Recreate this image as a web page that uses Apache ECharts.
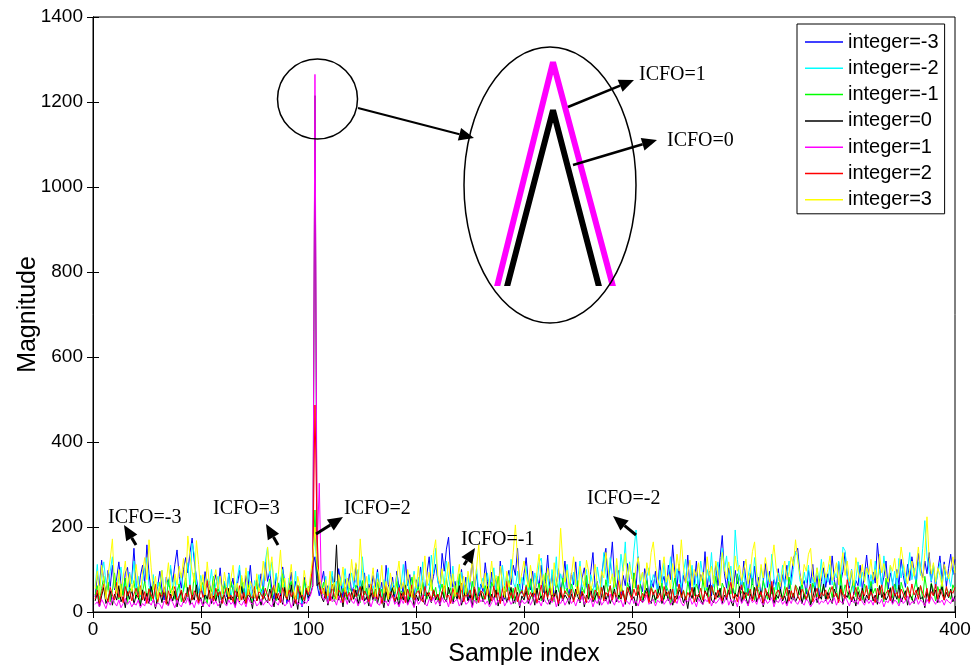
<!DOCTYPE html>
<html>
<head>
<meta charset="utf-8">
<script src="https://cdn.jsdelivr.net/npm/echarts@6/dist/echarts.min.js"></script>
<style>
html, body { margin: 0; padding: 0; background: #fff; }
#main { width: 973px; height: 665px; }
</style>
</head>
<body>
<div id="main"></div>
<script>
// sample index runs 1..400
var names = ['integer=-3', 'integer=-2', 'integer=-1', 'integer=0', 'integer=1', 'integer=2', 'integer=3'];
var colors = ['#0000ff', '#00ffff', '#00ff00', '#000000', '#ff00ff', '#ff0000', '#ffff00'];
var xTicks = [0, 50, 100, 150, 200, 250, 300, 350, 400];
var yTicks = [0, 200, 400, 600, 800, 1000, 1200, 1400];

var blue = [
 35, 88, 62, 122, 70, 45, 98, 60, 110, 52, 80, 118, 64, 40, 92, 105, 58, 76, 150, 66,
 42, 85, 110, 68, 158, 90, 48, 72, 35, 60, 96, 54, 28, 82, 64, 102, 70, 112, 146, 84,
 56, 100, 128, 92, 140, 174, 120, 80, 46, 62, 38, 95, 58, 72, 30, 66, 88, 50, 104, 44,
 70, 36, 92, 58, 80, 24, 64, 98, 52, 40, 86, 62, 110, 48, 34, 76, 56, 90, 44, 118,
 72, 96, 54, 30, 88, 62, 40, 106, 68, 20, 58, 94, 46, 72, 36, 60, 12, 82, 50, 26,
 74, 108, 130, 64, 38, 70, 96, 44, 62, 28, 84, 56, 40, 102, 68, 34, 78, 52, 90, 46,
 60, 112, 38, 74, 54, 92, 30, 66, 48, 86, 58, 100, 42, 70, 24, 110, 64, 50, 82, 36,
 96, 56, 72, 40, 120, 62, 88, 44, 34, 76, 54, 106, 68, 38, 92, 130, 60, 84, 112, 74,
 50, 138, 96, 148, 176, 88, 58, 72, 40, 64, 100, 46, 82, 28, 70, 124, 56, 90, 38, 66,
 48, 116, 72, 34, 94, 60, 80, 42, 120, 56, 30, 74, 98, 64, 110, 86, 150, 62, 44, 90,
 128, 70, 52, 96, 38, 84, 60, 110, 46, 72, 134, 56, 88, 30, 66, 102, 48, 76, 120, 58,
 40, 92, 64, 118, 50, 36, 80, 104, 62, 44, 96, 140, 58, 72, 30, 88, 124, 150, 68, 108,
 165, 76, 54, 98, 40, 86, 62, 114, 70, 34, 92, 56, 130, 66, 48, 102, 80, 38, 74, 58,
 96, 44, 122, 68, 84, 50, 110, 76, 158, 92, 60, 112, 40, 86, 68, 134, 52, 100, 64, 120,
 46, 88, 70, 142, 58, 96, 38, 74, 110, 62, 128, 180, 90, 56, 104, 72, 44, 98, 66, 86,
 52, 120, 74, 40, 92, 64, 108, 50, 82, 36, 70, 114, 58, 96, 44, 76, 62, 102, 48, 88,
 66, 110, 54, 80, 126, 140, 150, 92, 60, 74, 42, 98, 68, 112, 50, 86, 36, 72, 104, 58,
 90, 64, 132, 76, 48, 118, 70, 96, 140, 84, 56, 100, 40, 74, 62, 110, 52, 88, 134, 78,
 46, 94, 68, 162, 106, 60, 82, 120, 54, 92, 70, 38, 100, 64, 124, 86, 58, 112, 74, 130,
 96, 66, 138, 104, 80, 120, 90, 140, 70, 110, 56, 98, 132, 76, 118, 60, 102, 136, 88, 124
];
var cyan = [
 60, 112, 44, 90, 118, 70, 52, 96, 130, 64, 48, 82, 106, 58, 74, 40, 94, 66, 120, 50,
 84, 36, 72, 104, 128, 62, 46, 88, 30, 70, 56, 98, 42, 76, 60, 110, 52, 80, 34, 68,
 92, 48, 74, 116, 58, 162, 136, 70, 44, 86, 54, 30, 78, 62, 100, 40, 66, 84, 28, 58,
 72, 46, 90, 34, 64, 52, 80, 110, 44, 70, 38, 96, 60, 28, 74, 54, 88, 40, 66, 120,
 153, 84, 118, 62, 92, 48, 76, 100, 56, 34, 80, 62, 42, 96, 30, 58, 20, 74, 46, 36,
 60, 120, 190, 88, 52, 70, 40, 84, 30, 62, 96, 48, 72, 36, 80, 56, 102, 44, 68, 92,
 58, 76, 100, 46, 130, 70, 34, 88, 52, 62, 40, 94, 66, 30, 76, 54, 104, 42, 70, 58,
 86, 38, 64, 112, 50, 74, 28, 60, 96, 44, 82, 56, 118, 40, 70, 62, 134, 90, 150, 72,
 48, 98, 64, 120, 80, 52, 108, 36, 74, 60, 94, 42, 66, 86, 30, 72, 54, 104, 46, 62,
 80, 40, 92, 58, 70, 104, 48, 76, 36, 110, 62, 88, 50, 124, 70, 56, 96, 40, 82, 64,
 108, 52, 78, 44, 92, 66, 116, 127, 74, 58, 86, 40, 100, 62, 130, 48, 90, 70, 54, 112,
 68, 42, 94, 60, 80, 120, 52, 74, 100, 46, 88, 64, 36, 106, 72, 56, 140, 92, 60, 128,
 84, 54, 110, 70, 136, 96, 165, 62, 118, 78, 144, 193, 120, 66, 94, 50, 82, 104, 60, 88,
 72, 46, 98, 64, 116, 54, 86, 130, 70, 40, 102, 76, 58, 94, 124, 62, 80, 110, 48, 92,
 64, 120, 84, 52, 100, 72, 140, 60, 92, 118, 76, 150, 96, 132, 70, 108, 56, 193, 124, 80,
 62, 98, 44, 84, 112, 66, 128, 90, 56, 104, 74, 48, 96, 62, 136, 80, 52, 92, 70, 110,
 58, 86, 120, 64, 100, 141, 132, 76, 54, 94, 68, 110, 46, 82, 60, 104, 74, 124, 56, 90,
 70, 112, 64, 96, 80, 120, 58, 153, 144, 86, 62, 100, 48, 76, 118, 60, 94, 72, 106, 54,
 88, 66, 120, 78, 100, 58, 132, 84, 70, 110, 62, 96, 54, 126, 80, 112, 68, 92, 140, 76,
 104, 60, 118, 86, 150, 215, 130, 96, 72, 110, 64, 90, 116, 58, 100, 74, 86, 60, 96, 110
];
var green = [
 40, 62, 28, 55, 84, 36, 70, 24, 50, 92, 44, 30, 66, 38, 80, 22, 58, 46, 74, 32,
 60, 18, 48, 72, 34, 56, 26, 64, 42, 20, 70, 38, 52, 28, 76, 44, 60, 30, 50, 66,
 24, 54, 80, 40, 62, 32, 92, 46, 28, 58, 70, 36, 20, 64, 48, 84, 30, 56, 40, 26,
 62, 44, 30, 72, 50, 22, 58, 36, 80, 46, 28, 64, 40, 18, 54, 70, 32, 48, 60, 38,
 52, 78, 34, 60, 26, 68, 44, 90, 40, 30, 56, 72, 36, 22, 64, 48, 28, 76, 42, 60,
 58, 110, 240, 96, 62, 44, 70, 30, 52, 38, 66, 24, 48, 80, 34, 56, 42, 28, 60, 46,
 36, 64, 50, 22, 74, 40, 56, 30, 62, 48, 26, 70, 38, 54, 20, 66, 44, 32, 58, 42,
 72, 28, 50, 40, 64, 18, 56, 82, 34, 46, 60, 26, 70, 44, 30, 52, 76, 38, 58, 24,
 48, 66, 32, 80, 42, 56, 24, 62, 38, 90, 50, 28, 64, 46, 34, 72, 40, 20, 58, 44,
 30, 62, 46, 22, 70, 54, 36, 84, 40, 28, 60, 48, 74, 32, 56, 20, 66, 42, 52, 36,
 64, 40, 78, 30, 52, 44, 68, 26, 58, 92, 38, 62, 46, 24, 70, 54, 34, 80, 42, 56,
 28, 66, 48, 36, 74, 22, 58, 44, 86, 32, 60, 50, 26, 68, 40, 54, 30, 76, 46, 62,
 38, 82, 56, 30, 64, 44, 24, 70, 52, 36, 92, 58, 40, 66, 28, 50, 74, 34, 60, 46,
 22, 54, 40, 68, 30, 62, 48, 18, 56, 80, 42, 64, 34, 52, 26, 72, 44, 58, 38, 66,
 50, 30, 76, 44, 58, 24, 62, 40, 84, 48, 34, 68, 54, 28, 72, 42, 60, 36, 90, 52,
 44, 70, 32, 56, 40, 80, 26, 62, 48, 36, 74, 52, 30, 66, 42, 58, 24, 70, 46, 34,
 60, 38, 82, 48, 28, 64, 54, 40, 72, 30, 56, 44, 20, 68, 50, 36, 78, 42, 62, 32,
 46, 58, 34, 70, 52, 26, 88, 40, 64, 48, 30, 56, 74, 36, 60, 42, 28, 66, 50, 38,
 72, 44, 56, 30, 62, 48, 24, 80, 40, 58, 34, 66, 46, 20, 70, 52, 36, 60, 44, 28,
 54, 76, 40, 62, 30, 84, 48, 36, 68, 52, 26, 60, 42, 74, 34, 56, 46, 30, 64, 50
];
var black = [
 26, 44, 12, 38, 58, 20, 32, 50, 16, 42, 28, 62, 24, 36, 10, 48, 30, 54, 18, 40,
 34, 14, 52, 26, 44, 20, 60, 32, 8, 38, 46, 22, 56, 30, 16, 42, 26, 50, 12, 36,
 48, 22, 30, 58, 18, 40, 28, 64, 24, 34, 12, 44, 30, 52, 20, 38, 26, 46, 10, 32,
 40, 18, 56, 28, 36, 14, 48, 24, 60, 30, 20, 42, 34, 8, 50, 26, 38, 16, 44, 30,
 22, 54, 36, 12, 46, 28, 40, 18, 58, 32, 24, 64, 14, 38, 6, 48, 30, 20, 52, 34,
 44, 62, 1215, 62, 70, 36, 24, 48, 16, 40, 30, 56, 158, 28, 44, 12, 50, 34, 22, 46,
 30, 52, 18, 40, 60, 26, 36, 14, 46, 28, 54, 20, 42, 32, 10, 48, 24, 38, 58, 22,
 36, 16, 44, 28, 62, 20, 34, 50, 12, 40, 26, 56, 30, 18, 46, 36, 22, 52, 28, 42,
 14, 48, 32, 24, 58, 38, 20, 44, 30, 62, 16, 36, 50, 26, 40, 12, 54, 28, 34, 46,
 24, 38, 60, 18, 42, 30, 52, 14, 36, 26, 48, 22, 40, 58, 20, 32, 46, 10, 38, 28,
 50, 20, 34, 44, 16, 56, 28, 38, 24, 62, 30, 18, 42, 36, 52, 14, 46, 26, 40, 32,
 18, 42, 28, 54, 36, 22, 48, 12, 40, 30, 58, 24, 34, 46, 16, 38, 62, 26, 44, 20,
 36, 54, 24, 40, 30, 50, 18, 44, 60, 28, 36, 14, 48, 32, 22, 42, 56, 30, 20, 46,
 28, 40, 62, 20, 34, 48, 26, 56, 16, 38, 30, 52, 44, 22, 36, 8, 46, 32, 58, 24,
 42, 30, 18, 50, 38, 64, 28, 22, 46, 34, 56, 20, 40, 30, 52, 26, 14, 44, 36, 60,
 22, 48, 34, 16, 42, 30, 58, 24, 38, 50, 12, 36, 46, 28, 62, 20, 40, 32, 54, 26,
 38, 18, 52, 30, 44, 24, 36, 60, 20, 42, 28, 48, 16, 34, 56, 22, 40, 30, 66, 26,
 46, 32, 20, 54, 38, 28, 62, 18, 42, 34, 50, 24, 36, 14, 48, 30, 56, 22, 40, 28,
 54, 26, 40, 18, 62, 34, 46, 28, 38, 56, 20, 44, 30, 64, 24, 36, 50, 16, 42, 32,
 20, 44, 58, 30, 36, 10, 48, 26, 66, 38, 52, 22, 40, 60, 28, 46, 34, 54, 24, 38
];
var magenta = [
 18, 24, 12, 30, 20, 8, 26, 16, 34, 22, 14, 28, 10, 20, 32, 18, 26, 12, 22, 16,
 28, 10, 20, 14, 36, 24, 16, 30, 12, 22, 18, 8, 26, 20, 14, 32, 22, 10, 28, 18,
 12, 26, 20, 34, 16, 22, 10, 28, 18, 30, 14, 24, 20, 12, 36, 18, 26, 14, 22, 30,
 20, 14, 28, 18, 24, 10, 32, 20, 16, 26, 12, 34, 22, 18, 28, 14, 20, 30, 16, 24,
 26, 18, 12, 30, 22, 16, 36, 24, 14, 20, 28, 10, 24, 32, 18, 22, 14, 26, 20, 30,
 40, 60, 1265, 141, 303, 50, 28, 36, 20, 44, 24, 30, 16, 38, 22, 28, 34, 18, 42, 26,
 20, 32, 14, 26, 38, 18, 24, 30, 12, 28, 36, 20, 16, 34, 22, 26, 14, 30, 40, 18,
 24, 12, 30, 20, 36, 16, 28, 22, 10, 32, 18, 26, 40, 20, 14, 30, 24, 34, 18, 28,
 16, 34, 22, 28, 12, 38, 20, 26, 30, 14, 24, 36, 18, 22, 32, 10, 28, 20, 34, 24,
 30, 18, 26, 12, 22, 34, 16, 28, 20, 38, 14, 24, 30, 18, 26, 22, 36, 14, 28, 20,
 22, 32, 16, 28, 40, 20, 26, 14, 34, 24, 18, 30, 22, 36, 12, 28, 20, 32, 16, 26,
 34, 20, 28, 14, 30, 24, 38, 18, 26, 22, 32, 12, 28, 20, 36, 16, 24, 30, 18, 42,
 26, 16, 34, 22, 28, 12, 30, 24, 18, 36, 20, 26, 14, 32, 22, 28, 40, 18, 24, 30,
 14, 28, 22, 36, 18, 26, 32, 16, 24, 30, 20, 38, 22, 14, 28, 24, 34, 18, 26, 12,
 32, 22, 18, 30, 24, 36, 14, 28, 20, 26, 34, 18, 24, 40, 16, 30, 22, 28, 12, 36,
 20, 30, 26, 14, 34, 22, 28, 18, 38, 24, 16, 30, 20, 26, 34, 12, 28, 22, 32, 18,
 26, 14, 30, 20, 36, 24, 18, 28, 22, 16, 32, 24, 12, 20, 28, 34, 18, 26, 22, 30,
 18, 28, 22, 34, 16, 30, 24, 20, 38, 26, 14, 32, 22, 28, 18, 36, 24, 16, 30, 20,
 28, 16, 34, 24, 20, 30, 12, 26, 22, 36, 18, 28, 24, 14, 32, 20, 26, 38, 16, 24,
 22, 34, 18, 28, 24, 14, 30, 20, 36, 26, 18, 32, 22, 28, 16, 30, 24, 20, 34, 26
];
var red = [
 30, 52, 20, 44, 66, 36, 24, 58, 40, 28, 70, 34, 46, 22, 60, 38, 50, 26, 42, 56,
 34, 62, 28, 48, 20, 54, 40, 30, 66, 24, 44, 36, 58, 18, 50, 32, 46, 60, 28, 38,
 52, 24, 44, 36, 64, 28, 50, 40, 22, 60, 34, 46, 74, 30, 42, 26, 56, 38, 48, 20,
 44, 58, 30, 40, 24, 52, 36, 62, 28, 46, 20, 54, 38, 32, 60, 26, 48, 42, 30, 56,
 38, 26, 50, 64, 32, 44, 22, 58, 40, 30, 52, 36, 48, 20, 62, 34, 42, 28, 56, 40,
 70, 110, 487, 180, 60, 42, 56, 32, 48, 26, 64, 38, 30, 52, 44, 22, 58, 36, 46, 28,
 54, 36, 44, 60, 28, 50, 40, 24, 66, 34, 46, 30, 56, 20, 42, 62, 32, 48, 38, 26,
 40, 58, 30, 46, 22, 54, 36, 64, 28, 44, 50, 32, 24, 60, 38, 46, 28, 52, 34, 42,
 26, 48, 62, 34, 40, 20, 56, 38, 46, 30, 68, 24, 42, 36, 52, 28, 60, 40, 22, 50,
 44, 30, 54, 40, 26, 62, 34, 48, 20, 56, 38, 72, 28, 46, 32, 58, 24, 42, 50, 36,
 60, 28, 46, 36, 52, 22, 40, 64, 30, 48, 34, 56, 26, 44, 38, 20, 58, 32, 50, 42,
 34, 54, 24, 42, 60, 30, 48, 36, 22, 66, 40, 28, 52, 44, 32, 58, 26, 46, 38, 62,
 28, 46, 36, 74, 32, 50, 24, 58, 42, 30, 54, 38, 64, 26, 44, 34, 48, 22, 56, 40,
 52, 32, 44, 26, 60, 38, 48, 30, 54, 22, 42, 66, 34, 50, 28, 46, 36, 58, 24, 40,
 36, 56, 28, 48, 40, 20, 62, 44, 30, 52, 38, 26, 58, 34, 46, 70, 32, 42, 24, 50,
 64, 30, 46, 38, 54, 26, 42, 60, 32, 48, 22, 56, 40, 34, 72, 28, 44, 52, 36, 30,
 42, 58, 26, 50, 34, 62, 38, 28, 54, 44, 30, 48, 66, 24, 40, 56, 32, 46, 38, 52,
 30, 46, 60, 36, 44, 22, 54, 40, 32, 76, 48, 28, 42, 58, 34, 26, 50, 38, 62, 30,
 48, 36, 22, 56, 40, 64, 30, 44, 52, 26, 60, 38, 46, 32, 54, 42, 28, 58, 36, 66,
 40, 52, 30, 62, 44, 34, 56, 24, 48, 38, 66, 30, 54, 42, 28, 60, 36, 50, 44, 58
];
var yellow = [
 54, 96, 40, 110, 72, 30, 88, 124, 172, 60, 44, 100, 36, 82, 120, 58, 90, 48, 70, 112,
 66, 40, 94, 128, 76, 170, 104, 52, 84, 30, 62, 98, 46, 72, 116, 56, 38, 90, 64, 108,
 80, 126, 58, 179, 132, 96, 70, 168, 112, 50, 88, 40, 118, 64, 32, 76, 100, 54, 84, 42,
 94, 60, 36, 78, 110, 50, 68, 26, 86, 56, 104, 40, 72, 58, 34, 90, 48, 66, 120, 74,
 153, 96, 130, 64, 44, 88, 146, 58, 80, 36, 70, 112, 52, 30, 84, 60, 40, 98, 66, 48,
 90, 130, 200, 108, 84, 60, 42, 76, 38, 96, 54, 70, 30, 88, 62, 106, 46, 80, 56, 124,
 74, 116, 62, 172, 98, 50, 84, 40, 66, 104, 36, 78, 58, 110, 44, 72, 30, 92, 60, 48,
 82, 120, 54, 70, 40, 100, 64, 34, 88, 56, 108, 44, 76, 132, 62, 94, 50, 140, 170, 86,
 66, 102, 48, 78, 118, 58, 90, 36, 74, 112, 52, 84, 40, 96, 70, 128, 60, 104, 158, 82,
 56, 92, 40, 74, 120, 62, 86, 46, 108, 70, 34, 96, 58, 80, 140, 205, 124, 66, 92, 120,
 84, 58, 110, 72, 44, 96, 136, 64, 88, 50, 104, 76, 40, 116, 62, 90, 197, 118, 70, 98,
 54, 86, 130, 68, 42, 108, 78, 60, 122, 94, 50, 74, 112, 64, 38, 96, 80, 140, 104, 66,
 90, 58, 126, 76, 48, 100, 138, 70, 112, 84, 56, 106, 128, 74, 94, 52, 116, 86, 140, 165,
 110, 78, 62, 98, 130, 70, 88, 54, 114, 80, 136, 96, 170, 104, 68, 92, 122, 60, 100, 84,
 116, 72, 94, 58, 130, 86, 108, 66, 120, 90, 62, 140, 104, 78, 118, 84, 56, 132, 96, 110,
 74, 100, 124, 66, 92, 142, 165, 88, 58, 112, 80, 128, 96, 70, 118, 158, 104, 82, 60, 98,
 120, 76, 94, 130, 108, 170, 122, 88, 64, 112, 96, 136, 150, 84, 70, 104, 58, 92, 118, 80,
 100, 132, 74, 90, 116, 64, 108, 140, 86, 120, 72, 98, 62, 128, 94, 80, 112, 70, 104, 88,
 124, 76, 100, 60, 136, 92, 114, 84, 70, 110, 96, 126, 80, 104, 153, 118, 88, 66, 98, 120,
 84, 110, 153, 96, 74, 140, 224, 128, 90, 116, 70, 104, 86, 60, 112, 94, 78, 100, 130, 92
];
var seriesData = [blue, cyan, green, black, magenta, red, yellow];

// annotations: [text, x, y]
var notes = [
  ['ICFO=-3', 108, 518], ['ICFO=3', 213, 509], ['ICFO=2', 344, 509],
  ['ICFO=-1', 461, 540], ['ICFO=-2', 587, 499], ['ICFO=1', 639, 75], ['ICFO=0', 667, 141]
];
// arrows: [x1, y1, x2(tip), y2(tip), width]
var arrows = [
  [136, 545, 124, 525, 3], [278, 545, 266, 524, 3], [316, 534, 343, 517, 3],
  [464, 565, 475, 548, 3], [636, 535, 613, 516, 3],
  [568, 107, 634, 80, 2.5], [573, 165, 657, 140, 2.5], [358, 108, 474, 138, 2]
];

function pairs(arr) {
  return arr.map(function (v, i) { return [i + 1, v]; });
}

function arrow(a) {
  var x1 = a[0], y1 = a[1], x2 = a[2], y2 = a[3];
  var ang = Math.atan2(y2 - y1, x2 - x1), L = 15, W = 6.5;
  var bx = x2 - L * Math.cos(ang), by = y2 - L * Math.sin(ang);
  var s = Math.sin(ang), c = Math.cos(ang);
  return [
    { type: 'line', z: 100, shape: { x1: x1, y1: y1, x2: bx, y2: by }, style: { stroke: '#000', lineWidth: a[4] } },
    { type: 'polygon', z: 100, shape: { points: [[x2, y2], [bx - W * s, by + W * c], [bx + W * s, by - W * c]] }, style: { fill: '#000' } }
  ];
}

var graphics = [
  { type: 'circle', z: 100, shape: { cx: 317.5, cy: 99, r: 40 }, style: { fill: 'none', stroke: '#000', lineWidth: 1.5 } },
  { type: 'ellipse', z: 100, shape: { cx: 550, cy: 185, rx: 86, ry: 138 }, style: { fill: 'none', stroke: '#000', lineWidth: 1.5 } }
];
arrows.forEach(function (a) { graphics = graphics.concat(arrow(a)); });
notes.forEach(function (n) {
  graphics.push({
    type: 'text', z: 100, x: n[1], y: n[2],
    style: { text: n[0], font: '20px "Liberation Serif"', fill: '#000', verticalAlign: 'middle' }
  });
});

var series = [];
names.forEach(function (nm, k) {
  series.push({
    name: nm, type: 'line', xAxisIndex: 0, yAxisIndex: 0,
    data: pairs(seriesData[k]), showSymbol: false, silent: true,
    lineStyle: { color: colors[k], width: 1 }, itemStyle: { color: colors[k] }
  });
});
// zoomed inset of the main peak (integer=0 and integer=1)
[3, 4].forEach(function (k) {
  series.push({
    name: names[k], type: 'line', xAxisIndex: 2, yAxisIndex: 2,
    data: pairs(seriesData[k]), showSymbol: false, silent: true, clip: true,
    lineStyle: { color: colors[k], width: 6, join: 'bevel', cap: 'butt' }, itemStyle: { color: colors[k] }
  });
});

var tickFont = { fontFamily: 'Liberation Sans', fontSize: 19, color: '#000' };
var hidden = { show: false };
function plain(v) { return String(v); }

var chart = echarts.init(document.getElementById('main'));
chart.setOption({
  animation: false,
  backgroundColor: '#fff',
  grid: [
    { left: 93, top: 17, width: 862, height: 595, show: true, borderColor: '#000', borderWidth: 1, containLabel: false, outerBoundsMode: 'none' },
    { left: 480, top: 45, width: 146, height: 238, containLabel: false, outerBoundsMode: 'none' }
  ],
  legend: {
    data: names, orient: 'vertical', left: 797, top: 24,
    padding: [8, 6, 4, 8], itemGap: 6.3, itemWidth: 38, itemHeight: 1.5, icon: 'rect',
    backgroundColor: '#fff', borderColor: '#000', borderWidth: 1, borderRadius: 0,
    textStyle: { fontFamily: 'Liberation Sans', fontSize: 20, color: '#000', lineHeight: 20 },
    selectedMode: false
  },
  xAxis: [
    {
      type: 'value', gridIndex: 0, min: 0, max: 400, interval: 50,
      name: 'Sample index', nameLocation: 'middle', nameGap: 30, nameMoveOverlap: false,
      nameTextStyle: { fontFamily: 'Liberation Sans', fontSize: 25, color: '#000' },
      axisLine: { lineStyle: { color: '#000' } },
      axisTick: { inside: true, length: 6, lineStyle: { color: '#000' } },
      axisLabel: Object.assign({ margin: 8, formatter: plain }, tickFont),
      splitLine: hidden
    },
    {
      type: 'value', gridIndex: 0, position: 'top', min: 0, max: 400, interval: 50,
      axisLine: { lineStyle: { color: '#000' } },
      axisTick: { inside: true, length: 6, lineStyle: { color: '#000' } },
      axisLabel: hidden, splitLine: hidden
    },
    { type: 'value', gridIndex: 1, min: 102.747, max: 103.253, show: false, splitLine: hidden }
  ],
  yAxis: [
    {
      type: 'value', gridIndex: 0, min: 0, max: 1400, interval: 200,
      name: 'Magnitude', nameLocation: 'middle', nameGap: 52, nameMoveOverlap: false,
      nameTextStyle: { fontFamily: 'Liberation Sans', fontSize: 25, color: '#000' },
      axisLine: { show: true, lineStyle: { color: '#000' } },
      axisTick: { show: true, inside: true, length: 6, lineStyle: { color: '#000' } },
      axisLabel: Object.assign({ margin: 10, formatter: plain }, tickFont),
      splitLine: hidden
    },
    {
      type: 'value', gridIndex: 0, position: 'right', min: 0, max: 1400, interval: 200,
      axisLine: { show: true, lineStyle: { color: '#000' } },
      axisTick: { show: true, inside: true, length: 6, lineStyle: { color: '#000' } },
      axisLabel: hidden, splitLine: hidden
    },
    { type: 'value', gridIndex: 1, min: 1035, max: 1283, show: false, splitLine: hidden }
  ],
  graphic: graphics,
  series: series
});
</script>
</body>
</html>
